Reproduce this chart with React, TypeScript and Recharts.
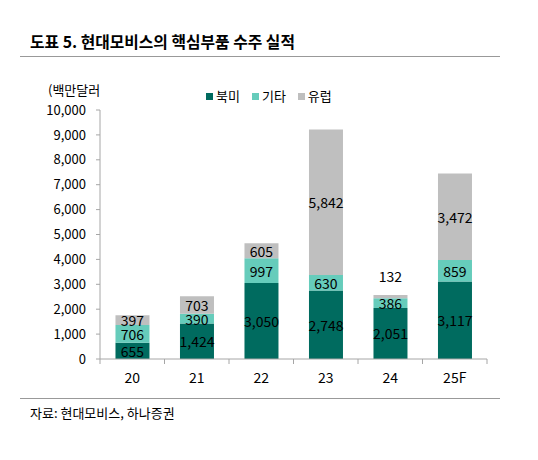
import React from 'react';
import { BarChart, Bar, XAxis, YAxis, LabelList } from 'recharts';

const categories = ['20', '21', '22', '23', '24', '25F'];
const northAmerica = [655, 1424, 3050, 2748, 2051, 3117];
const others = [706, 390, 997, 630, 386, 859];
const europe = [397, 703, 605, 5842, 132, 3472];
const yTicks = [0, 1000, 2000, 3000, 4000, 5000, 6000, 7000, 8000, 9000, 10000];

const series = [
  { key: 'na', name: '북미', color: '#006B5F' },
  { key: 'etc', name: '기타', color: '#66CCBB' },
  { key: 'eu', name: '유럽', color: '#BFBFBF' },
];

const data = categories.map((name, i) => ({
  name,
  na: northAmerica[i],
  etc: others[i],
  eu: europe[i],
}));

const FONT = '"Noto Sans CJK KR", "Noto Sans", sans-serif';
const AXIS_COLOR = '#A6A6A6';
const TICK_SIZE = 5;
const TICK_MARGIN = 10;

const fmt = (v: number) => Number(v).toLocaleString('en-US');

// tick marks sit on the category boundaries, not the centres
const CategoryTick = (props: any) => {
  const { x, y, payload, index, width, visibleTicksCount } = props;
  let half = payload && payload.offset ? payload.offset : 0;
  if (!half && width && visibleTicksCount) half = Number(width) / visibleTicksCount / 2;
  const axisY = y - TICK_SIZE - TICK_MARGIN;
  return (
    <g>
      <line x1={x - half} x2={x - half} y1={axisY} y2={axisY + TICK_SIZE} stroke={AXIS_COLOR} />
      {index === categories.length - 1 && (
        <line x1={x + half} x2={x + half} y1={axisY} y2={axisY + TICK_SIZE} stroke={AXIS_COLOR} />
      )}
      <text x={x} y={axisY + 18} textAnchor="middle" dominantBaseline="central" fontSize={14} fill="#000" fontFamily={FONT}>
        {payload.value}
      </text>
    </g>
  );
};

const renderLabel = (props: any) => {
  const { x, y, width, height, value } = props;
  const small = Math.abs(height) < 6;
  const cy = small ? y - 19 : y + height / 2;
  return (
    <text x={x + width / 2} y={cy} textAnchor="middle" dominantBaseline="central" fontSize={14} fill="#000" fontFamily={FONT}>
      {fmt(value)}
    </text>
  );
};

const App: React.FC = () => {
  return (
    <div style={{ position: 'absolute', left: 0, top: 0, width: 538, height: 460, background: '#fff', fontFamily: FONT }}>
      <div style={{ position: 'absolute', left: 30, top: 31, height: 22, lineHeight: '22px', fontSize: 15.8, fontWeight: 700, color: '#000' }}>
        도표 5. 현대모비스의 핵심부품 수주 실적
      </div>
      <div style={{ position: 'absolute', left: 20, top: 56, width: 480, height: 1, background: '#999' }} />

      <div style={{ position: 'absolute', left: 48, top: 80, height: 20, lineHeight: '20px', fontSize: 13, color: '#000' }}>
        (백만달러
      </div>

      <div style={{ position: 'absolute', left: 206, top: 86, height: 20, display: 'flex', alignItems: 'center', fontSize: 13, color: '#000' }}>
        {series.map((s) => (
          <div key={s.key} style={{ display: 'flex', alignItems: 'center', marginRight: 12 }}>
            <div style={{ width: 7, height: 7, background: s.color, marginRight: 3 }} />
            <span style={{ lineHeight: '20px' }}>{s.name}</span>
          </div>
        ))}
      </div>

      <div style={{ position: 'absolute', left: 0, top: 0 }}>
        <BarChart
          width={538}
          height={460}
          data={data}
          margin={{ top: 110, right: 51, left: 30, bottom: 71 }}
          barCategoryGap="24%"
        >
          <XAxis
            dataKey="name"
            height={30}
            axisLine={{ stroke: AXIS_COLOR }}
            tickLine={false}
            tickSize={TICK_SIZE}
            tickMargin={TICK_MARGIN}
            tick={<CategoryTick />}
            interval={0}
          />
          <YAxis
            width={70}
            domain={[0, 10000]}
            ticks={yTicks}
            tickFormatter={fmt}
            axisLine={{ stroke: AXIS_COLOR }}
            tickLine={{ stroke: AXIS_COLOR }}
            tickSize={4}
            tickMargin={10}
            tick={{ fontSize: 13, fill: '#000', fontFamily: FONT }}
          />
          {series.map((s) => (
            <Bar key={s.key} dataKey={s.key} name={s.name} stackId="a" fill={s.color} isAnimationActive={false}>
              <LabelList dataKey={s.key} content={renderLabel} />
            </Bar>
          ))}
        </BarChart>
      </div>

      <div style={{ position: 'absolute', left: 20, top: 398, width: 480, height: 1, background: '#999' }} />
      <div style={{ position: 'absolute', left: 30, top: 403, height: 20, lineHeight: '20px', fontSize: 13, color: '#000' }}>
        자료: 현대모비스, 하나증권
      </div>
    </div>
  );
};

export default App;
